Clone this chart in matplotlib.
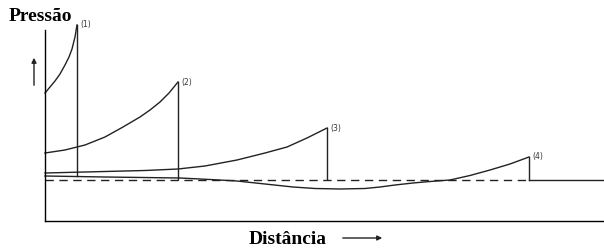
import matplotlib.pyplot as plt
import matplotlib
matplotlib.rcParams['font.family'] = 'DejaVu Sans'

# distância e pressão (unidades arbitrárias)
x1 = [0, 5, 10, 15, 20, 24, 27, 30, 32]
p1 = [128, 134, 140, 147, 156, 164, 172, 184, 196]
x2 = [0, 20, 40, 60, 78, 95, 105, 115, 124, 133]
p2 = [68, 71, 76, 84, 94, 104, 111, 119, 128, 139]
x3 = [0, 60, 100, 133, 160, 192, 220, 242, 262, 282]
p3 = [48, 49.5, 50.5, 52, 55, 61, 68, 74, 83, 93]
x4 = [0, 60, 135, 165, 192, 220, 248, 270, 295, 320, 335, 350, 368, 385, 405, 425, 445, 465, 484]
p4 = [45, 44, 43, 41.5, 40, 37, 34, 32.5, 32, 32.5, 34, 36, 38, 39.5, 41, 45.5, 51, 57, 64]
curves = [(x1, p1), (x2, p2), (x3, p3), (x4, p4)]
pulse_labels = ['(1)', '(2)', '(3)', '(4)']
base_p = [45, 42, 42, 41]
p_static = 41
x_end = 559

fig = plt.figure(figsize=(6.04, 2.49), dpi=100)
ax = fig.add_axes([45 / 604, 28 / 249, 559 / 604, 221 / 249])
ax.set_xlim(0, x_end)
ax.set_ylim(0, 221)
ax.set_xticks([])
ax.set_yticks([])
ax.spines['top'].set_visible(False)
ax.spines['right'].set_visible(False)
ax.spines['left'].set_bounds(0, 191)
ax.spines['left'].set_linewidth(1.0)
ax.spines['bottom'].set_linewidth(1.0)
ax.patch.set_visible(False)

lc = '#222222'
for (xs, ps), lab, b in zip(curves, pulse_labels, base_p):
    ax.plot(xs, ps, color=lc, lw=1.0, clip_on=False, solid_joinstyle='round')
    ax.plot([xs[-1], xs[-1]], [ps[-1], b], color=lc, lw=1.0, clip_on=False)
    ax.text(xs[-1] + 3, ps[-1], lab, fontsize=5.5, ha='left', va='center', color='#333333')

# linha estática
ax.plot([0, x4[-1]], [p_static, p_static], color=lc, lw=1.0, ls=(0, (6, 4)))
ax.plot([x4[-1], x_end], [p_static, p_static], color=lc, lw=1.0)

fig.text(9 / 604, 1 - 21 / 249, 'Pressão', family='Liberation Serif', weight='bold',
         fontsize=14, ha='left', va='baseline')
fig.text(288 / 604, 1 - 244 / 249, 'Distância', family='Liberation Serif', weight='bold',
         fontsize=14, ha='center', va='baseline')
fig.patches.append(matplotlib.patches.FancyArrowPatch(
    (34 / 604, 1 - 88 / 249), (34 / 604, 1 - 55 / 249), transform=fig.transFigure,
    arrowstyle='-|>', mutation_scale=7, color=lc, lw=1.0))
fig.patches.append(matplotlib.patches.FancyArrowPatch(
    (340 / 604, 1 - 238 / 249), (385 / 604, 1 - 238 / 249), transform=fig.transFigure,
    arrowstyle='-|>', mutation_scale=7, color=lc, lw=1.0))

fig.savefig('out.png', dpi=100)
